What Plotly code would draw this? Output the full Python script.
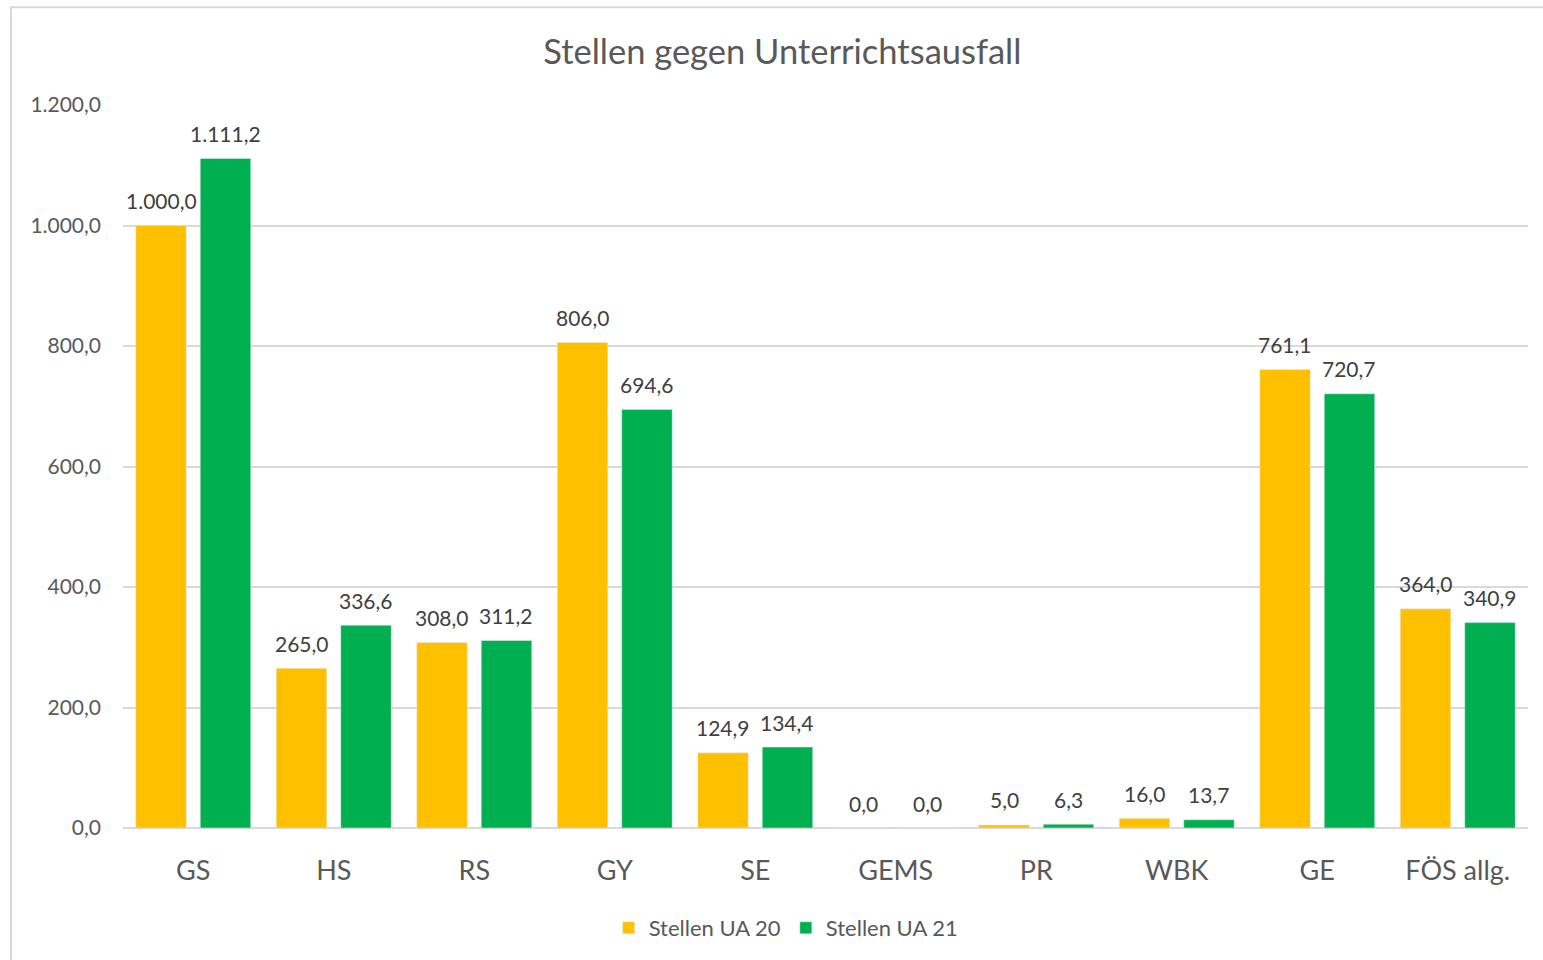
import plotly.graph_objects as go

categories = ["GS", "HS", "RS", "GY", "SE", "GEMS", "PR", "WBK", "GE", "FÖS allg."]
ua20 = [1000.0, 265.0, 308.0, 806.0, 124.9, 0.0, 5.0, 16.0, 761.1, 364.0]
ua21 = [1111.2, 336.6, 311.2, 694.6, 134.4, 0.0, 6.3, 13.7, 720.7, 340.9]
series_names = ["Stellen UA 20", "Stellen UA 21"]
tick_vals = [0, 200, 400, 600, 800, 1000, 1200]


def de(v):
    s = f"{v:,.1f}"
    return s.replace(",", "X").replace(".", ",").replace("X", ".")


FONT = "Lato, 'Open Sans', sans-serif"
fig = go.Figure()
series = [(series_names[0], ua20, "#FFC000", -32), (series_names[1], ua21, "#00B050", 32)]
for name, vals, col, _ in series:
    fig.add_trace(go.Bar(x=categories, y=vals, name=name, marker_color=col))

# data labels centred 25 px above each bar top
for name, vals, col, dx in series:
    for c, v in zip(categories, vals):
        fig.add_annotation(x=c, y=v, text=de(v), showarrow=False, xshift=dx, yshift=25,
                           yanchor="middle", xanchor="center",
                           font=dict(size=21, color="#404040", family=FONT))

fig.update_layout(
    width=1543, height=960,
    margin=dict(l=123, r=15, t=105, b=131),
    paper_bgcolor="white", plot_bgcolor="white",
    separators=",.",
    barmode="group", bargap=0.082, bargroupgap=0.217,
    title=dict(text="Stellen gegen Unterrichtsausfall", x=0.507, xanchor="center",
               y=1 - 52 / 960, yanchor="middle",
               font=dict(size=34.5, color="#595959", family=FONT)),
    legend=dict(orientation="h", x=0.472, xanchor="center", y=-(928 - 829) / 724,
                yanchor="middle", font=dict(size=22, color="#595959", family=FONT),
                itemwidth=30, traceorder="normal"),
    showlegend=True,
)
fig.update_yaxes(range=[0, 1200], tickvals=tick_vals, tickformat=",.1f",
                 showgrid=True, gridcolor="#d9d9d9", gridwidth=2,
                 zeroline=True, zerolinecolor="#d9d9d9", zerolinewidth=2,
                 tickfont=dict(size=21, color="#595959", family=FONT),
                 ticks="", ticklabelstandoff=21)
fig.update_xaxes(tickfont=dict(size=27, color="#595959", family=FONT),
                 showline=False, ticks="", ticklabelstandoff=24)
fig.add_shape(type="rect", xref="paper", yref="paper",
              x0=(11 - 123) / 1405, x1=(1560 - 123) / 1405,
              y0=-(990 - 829) / 724, y1=(829 - 7) / 724,
              line=dict(color="#d9d9d9", width=2), fillcolor="rgba(0,0,0,0)", layer="below")
fig.write_html("out.html", config={"displayModeBar": False},
               post_script="document.body.style.margin='0';")
